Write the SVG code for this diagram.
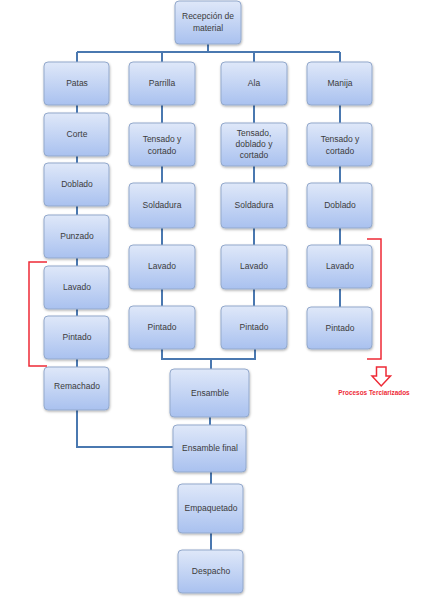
<svg xmlns="http://www.w3.org/2000/svg" width="421" height="600" viewBox="0 0 421 600">
<defs>
<linearGradient id="g" x1="0" y1="0" x2="0" y2="1">
<stop offset="0" stop-color="#dfe8f9"/>
<stop offset="1" stop-color="#a9c1ef"/>
</linearGradient>
<filter id="sh" x="-10%" y="-10%" width="130%" height="130%">
<feDropShadow dx="0.5" dy="1.2" stdDeviation="0.8" flood-color="#000" flood-opacity="0.3"/>
</filter>
</defs>
<style>
.b{fill:url(#g);stroke:#93a9cc;stroke-width:1;filter:url(#sh)}
.t{font-family:"Liberation Sans",Arial,sans-serif;font-size:8.5px;fill:#3b3b3b;text-anchor:middle}
.c{fill:none;stroke:#4a78b0;stroke-width:2}
.r{fill:none;stroke:#ee2a36;stroke-width:1.5}
</style>
<rect width="421" height="600" fill="#fff"/>
<g id="connectors">
<path class="c" d="M208,44 V52 M77,52 H340 M77,52 V62 M162,52 V62 M254,52 V62 M340,52 V62"/>
<path class="c" d="M77,105 V113 M77,156 V163 M77,206 V215 M77,258 V266 M77,309 V316 M77,359 V367 M77,410 V447 H173"/>
<path class="c" d="M162,105 V123 M162,166 V183 M162,228 V245 M162,289 V306 M162,349 V359 H255 V349 M211,359 V369"/>
<path class="c" d="M254,105 V123 M254,166 V183 M254,228 V245 M254,289 V306"/>
<path class="c" d="M340,105 V123 M340,166 V183 M340,228 V245 M340,289 V307"/>
<path class="c" d="M210,417 V425 M211,472 V484 M211,533 V550"/>
</g>
<g id="n_recepcion"><rect class="b" x="175" y="1" width="66" height="43" rx="4"/><text class="t" x="208" y="19">Recepción de</text><text class="t" x="208" y="31">material</text></g>
<g id="n_patas"><rect class="b" x="44" y="62" width="65" height="43" rx="4"/><text class="t" x="77" y="86">Patas</text></g>
<g id="n_corte"><rect class="b" x="44" y="113" width="65" height="43" rx="4"/><text class="t" x="77" y="137">Corte</text></g>
<g id="n_doblado1"><rect class="b" x="44" y="163" width="65" height="43" rx="4"/><text class="t" x="77" y="187">Doblado</text></g>
<g id="n_punzado"><rect class="b" x="44" y="215" width="65" height="43" rx="4"/><text class="t" x="77" y="239">Punzado</text></g>
<g id="n_lavado1"><rect class="b" x="44" y="266" width="65" height="43" rx="4"/><text class="t" x="77" y="290">Lavado</text></g>
<g id="n_pintado1"><rect class="b" x="44" y="316" width="65" height="43" rx="4"/><text class="t" x="77" y="340">Pintado</text></g>
<g id="n_remachado"><rect class="b" x="44" y="367" width="65" height="43" rx="4"/><text class="t" x="77" y="389">Remachado</text></g>
<g id="n_parrilla"><rect class="b" x="129" y="62" width="66" height="43" rx="4"/><text class="t" x="162" y="86">Parrilla</text></g>
<g id="n_tensado2"><rect class="b" x="129" y="123" width="66" height="43" rx="4"/><text class="t" x="162" y="142">Tensado y</text><text class="t" x="162" y="154">cortado</text></g>
<g id="n_soldadura2"><rect class="b" x="129" y="183" width="66" height="45" rx="4"/><text class="t" x="162" y="208">Soldadura</text></g>
<g id="n_lavado2"><rect class="b" x="129" y="245" width="66" height="44" rx="4"/><text class="t" x="162" y="269">Lavado</text></g>
<g id="n_pintado2"><rect class="b" x="129" y="306" width="66" height="43" rx="4"/><text class="t" x="162" y="330">Pintado</text></g>
<g id="n_ala"><rect class="b" x="221" y="62" width="66" height="43" rx="4"/><text class="t" x="254" y="86">Ala</text></g>
<g id="n_tensado3"><rect class="b" x="221" y="123" width="66" height="43" rx="4"/><text class="t" x="254" y="136">Tensado,</text><text class="t" x="254" y="147">doblado y</text><text class="t" x="254" y="158">cortado</text></g>
<g id="n_soldadura3"><rect class="b" x="221" y="183" width="66" height="45" rx="4"/><text class="t" x="254" y="208">Soldadura</text></g>
<g id="n_lavado3"><rect class="b" x="221" y="245" width="66" height="44" rx="4"/><text class="t" x="254" y="269">Lavado</text></g>
<g id="n_pintado3"><rect class="b" x="221" y="306" width="66" height="43" rx="4"/><text class="t" x="254" y="330">Pintado</text></g>
<g id="n_manija"><rect class="b" x="307" y="62" width="65" height="43" rx="4"/><text class="t" x="340" y="86">Manija</text></g>
<g id="n_tensado4"><rect class="b" x="307" y="123" width="65" height="43" rx="4"/><text class="t" x="340" y="142">Tensado y</text><text class="t" x="340" y="154">cortado</text></g>
<g id="n_doblado4"><rect class="b" x="307" y="183" width="65" height="45" rx="4"/><text class="t" x="340" y="208">Doblado</text></g>
<g id="n_lavado4"><rect class="b" x="307" y="245" width="65" height="43" rx="4"/><text class="t" x="340" y="269">Lavado</text></g>
<g id="n_pintado4"><rect class="b" x="307" y="307" width="65" height="42" rx="4"/><text class="t" x="340" y="331">Pintado</text></g>
<g id="n_ensamble"><rect class="b" x="170" y="369" width="79" height="48" rx="4"/><text class="t" x="210" y="396">Ensamble</text></g>
<g id="n_ensamble_final"><rect class="b" x="173" y="425" width="73" height="47" rx="4"/><text class="t" x="210" y="451">Ensamble final</text></g>
<g id="n_empaquetado"><rect class="b" x="178" y="484" width="65" height="49" rx="4"/><text class="t" x="211" y="511">Empaquetado</text></g>
<g id="n_despacho"><rect class="b" x="178" y="550" width="65" height="43" rx="4"/><text class="t" x="211" y="574">Despacho</text></g>
<g id="tercerizados">
<path class="r" d="M47,262 H29 V366 H47"/>
<path class="r" d="M367,239 H381 V359 H367"/>
<path fill="#fff" stroke="#ee2a36" stroke-width="1.5" stroke-linejoin="miter" d="M376.5,367 H386 V376 H390.5 L381.2,386 L372,376 H376.5 Z"/>
<text x="374" y="395" font-family="'Liberation Sans',Arial,sans-serif" font-size="6.4" font-weight="bold" fill="#ee2a36" text-anchor="middle">Procesos Terciarizados</text>
</g>
</svg>
